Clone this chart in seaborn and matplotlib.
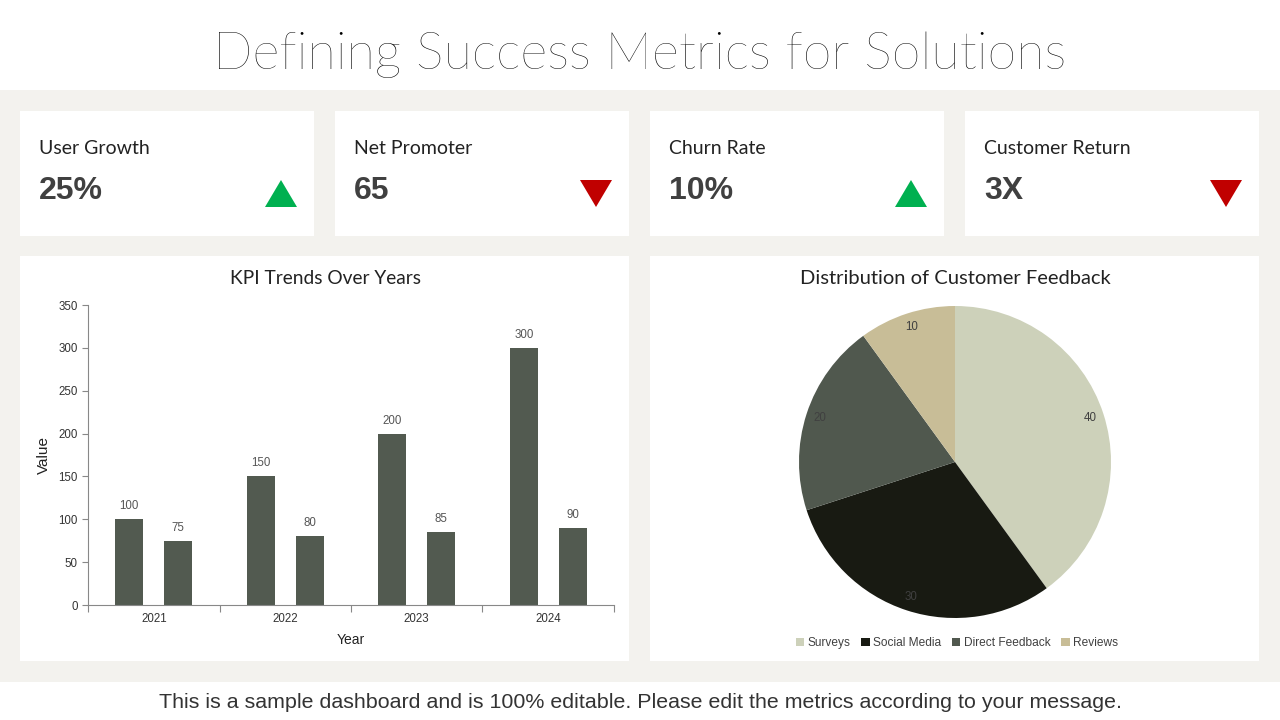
import numpy as np
import pandas as pd
import seaborn as sns
import matplotlib.pyplot as plt
from matplotlib.patches import Rectangle, Polygon

# KPI cards
kpi_names = ['User Growth', 'Net Promoter', 'Churn Rate', 'Customer Return']
kpi_values = ['25%', '65', '10%', '3X']
kpi_trend = ['up', 'down', 'up', 'down']

# bar chart
years = ['2021', '2022', '2023', '2024']
series_a = [100, 150, 200, 300]
series_b = [75, 80, 85, 90]

# pie chart
feedback_src = ['Surveys', 'Social Media', 'Direct Feedback', 'Reviews']
feedback_val = [40, 30, 20, 10]
pie_colors = ['#CDD1BA', '#181A12', '#50584E', '#C8BD97']

W, H = 1280, 720
sns.set_theme(style='white')
plt.rcParams['font.family'] = ['Lato', 'DejaVu Sans']

fig = plt.figure(figsize=(W / 100, H / 100), dpi=100)
fig.patch.set_facecolor('white')

def box(x0, y0, x1, y1, color):
    # pixel coords, origin top-left
    fig.patches.append(Rectangle((x0 / W, 1 - y1 / H), (x1 - x0) / W, (y1 - y0) / H,
                                 transform=fig.transFigure, facecolor=color,
                                 edgecolor='none', zorder=-2))

def fx(x):
    return x / W

def fy(y):
    return 1 - y / H

# background bands
box(0, 90, W, 682, '#F3F2EE')
fig.text(0.5, fy(55), 'Defining Success Metrics for Solutions', ha='center', va='center',
         fontsize=37.5, fontweight='light', color='black')
fig.text(0.5, fy(702), 'This is a sample dashboard and is 100% editable. Please edit the metrics according to your message.',
         ha='center', va='center', fontsize=15.4, color='#333333', family='Liberation Sans')

# KPI cards
for i, (name, val, tr) in enumerate(zip(kpi_names, kpi_values, kpi_trend)):
    x0 = 20 + i * 315
    box(x0, 111, x0 + 294, 236, 'white')
    fig.text(fx(x0 + 19), fy(148), name, ha='left', va='center', fontsize=14, color='#222222')
    fig.text(fx(x0 + 19), fy(191), val, ha='left', va='center', fontsize=23, fontweight='bold',
             color='#404040', family='Liberation Sans')
    tx0, tx1, ty0, ty1 = x0 + 245, x0 + 277, 180, 207
    if tr == 'up':
        pts = [(fx(tx0), fy(ty1)), (fx(tx1), fy(ty1)), (fx((tx0 + tx1) / 2), fy(ty0))]
        col = '#00B050'
    else:
        pts = [(fx(tx0), fy(ty0)), (fx(tx1), fy(ty0)), (fx((tx0 + tx1) / 2), fy(ty1))]
        col = '#C00000'
    fig.patches.append(Polygon(pts, closed=True, transform=fig.transFigure,
                               facecolor=col, edgecolor='none', zorder=-1))

# chart panels
box(20, 256, 629, 661, 'white')
box(650, 256, 1259, 661, 'white')
fig.text(fx(325), fy(278), 'KPI Trends Over Years', ha='center', va='center', fontsize=13.8, color='#222222')
fig.text(fx(955), fy(278), 'Distribution of Customer Feedback', ha='center', va='center', fontsize=14.5, color='#222222')

# bar chart
df = pd.DataFrame({
    'Year': years * 2,
    'Value': series_a + series_b,
    'Series': ['A'] * len(years) + ['B'] * len(years),
})
ax = fig.add_axes([fx(88), fy(605), fx(614) - fx(88), fy(305) - fy(605)])
ax.set_facecolor('none')
sns.barplot(data=df, x='Year', y='Value', hue='Series', palette=['#525A50', '#525A50'],
            width=0.745, gap=0.43, legend=False, ax=ax, saturation=1, linewidth=0)
for c in ax.containers:
    ax.bar_label(c, padding=5, fontsize=8.3, color='#555555', family='Liberation Sans')
ax.set_xlim(-0.5, 3.5)
ax.set_ylim(0, 350)
ax.set_yticks(np.arange(0, 351, 50))
ax.set_xticks(np.arange(-0.5, 4, 1), minor=True)
for s in ['top', 'right']:
    ax.spines[s].set_visible(False)
for s in ['left', 'bottom']:
    ax.spines[s].set_color('#888888')
    ax.spines[s].set_linewidth(0.8)
ax.tick_params(axis='x', which='major', length=0, labelsize=8.3, colors='#333333', pad=6)
ax.tick_params(axis='x', which='minor', length=5, width=0.8, color='#888888', direction='out', bottom=True)
ax.tick_params(axis='y', length=4, width=0.8, color='#888888', labelsize=8.3, labelcolor='#333333', left=True)
for lab in ax.get_xticklabels() + ax.get_yticklabels():
    lab.set_family('Liberation Sans')
ax.set_xlabel('Year', fontsize=10, color='#222222', family='Liberation Sans', labelpad=5.5)
ax.set_ylabel('Value', fontsize=11, color='#222222', family='Liberation Sans', labelpad=5)

# pie chart
r = 156
pax = fig.add_axes([fx(955 - r), fy(462 + r), 2 * r / W, 2 * r / H])
wedges, texts = pax.pie(feedback_val, labels=[str(v) for v in feedback_val], colors=pie_colors,
                        startangle=90, counterclock=False, labeldistance=0.91,
                        wedgeprops=dict(linewidth=0),
                        textprops=dict(fontsize=8.3, color='#404040', family='Liberation Sans',
                                       ha='center', va='center'))
for t in texts:
    t.set_ha('center')
pax.set_xlim(-1, 1)
pax.set_ylim(-1, 1)
fig.legend(wedges, feedback_src, loc='center', bbox_to_anchor=(fx(957), fy(643)), ncol=4,
           frameon=False, handlelength=0.7, handleheight=0.7, handletextpad=0.3,
           columnspacing=0.9, prop=dict(family='Liberation Sans', size=8.6), labelcolor='#404040')

fig.savefig('out.png', dpi=100)
